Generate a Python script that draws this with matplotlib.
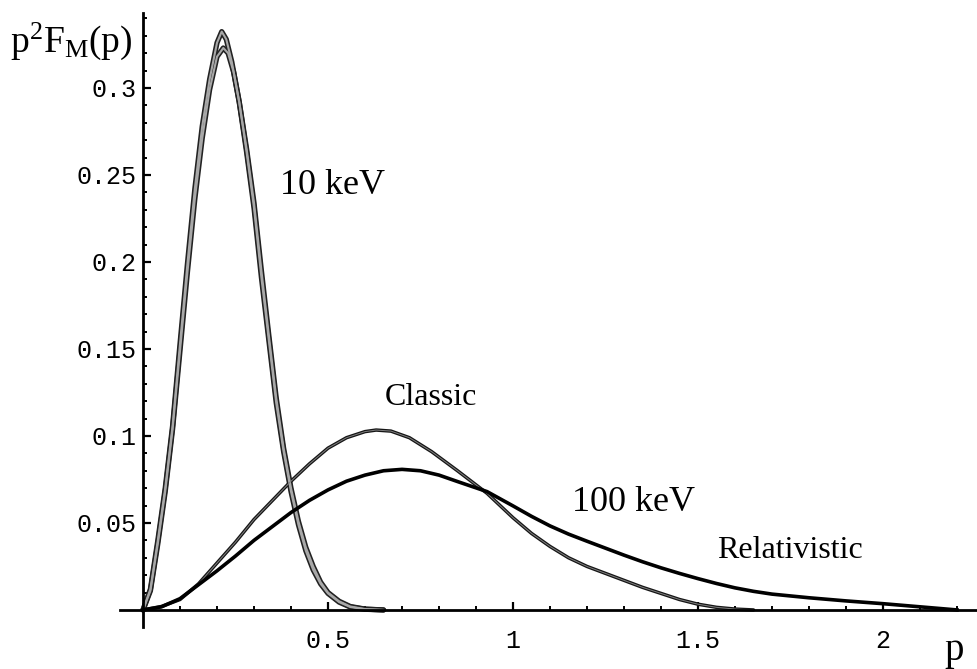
import matplotlib
matplotlib.use("Agg")
import matplotlib.pyplot as plt
from matplotlib.ticker import FixedLocator

# ---- data ----
p_c10 = [0, 0.02, 0.04, 0.06, 0.08, 0.10, 0.12, 0.14, 0.16, 0.18, 0.20, 0.2127, 0.225, 0.24,
         0.26, 0.28, 0.30, 0.32, 0.34, 0.36, 0.38, 0.40, 0.42, 0.44, 0.46, 0.48, 0.50, 0.53,
         0.56, 0.60, 0.65]
v_c10 = [0, 0.012, 0.040, 0.070, 0.106, 0.153, 0.199, 0.242, 0.278, 0.305, 0.326, 0.3324, 0.328,
         0.315, 0.292, 0.263, 0.231, 0.191, 0.155, 0.119, 0.091, 0.068, 0.049, 0.034, 0.023,
         0.015, 0.0095, 0.0045, 0.0017, 0.0004, 0]

p_r10 = [0, 0.02, 0.04, 0.06, 0.08, 0.10, 0.12, 0.14, 0.16, 0.18, 0.20, 0.217, 0.23, 0.245,
         0.26, 0.28, 0.30, 0.32, 0.34, 0.36, 0.38, 0.40, 0.42, 0.44, 0.46, 0.48, 0.50, 0.53,
         0.56, 0.60, 0.65]
v_r10 = [0, 0.011, 0.038, 0.068, 0.104, 0.149, 0.194, 0.236, 0.271, 0.299, 0.318, 0.323, 0.320,
         0.309, 0.292, 0.265, 0.234, 0.195, 0.158, 0.122, 0.093, 0.070, 0.051, 0.036, 0.025,
         0.016, 0.010, 0.005, 0.002, 0.0005, 0]

p_c100 = [0, 0.05, 0.10, 0.15, 0.20, 0.25, 0.30, 0.35, 0.40, 0.45, 0.50, 0.55, 0.60, 0.63,
          0.67, 0.72, 0.78, 0.85, 0.93, 1.00, 1.05, 1.10, 1.15, 1.20, 1.25, 1.30, 1.35, 1.40,
          1.45, 1.50, 1.55, 1.60, 1.65]
v_c100 = [0, 0.002, 0.006, 0.015, 0.027, 0.039, 0.052, 0.063, 0.074, 0.084, 0.093, 0.099,
          0.1025, 0.1034, 0.1028, 0.099, 0.091, 0.080, 0.067, 0.053, 0.044, 0.0365, 0.030,
          0.025, 0.021, 0.017, 0.013, 0.0095, 0.006, 0.0033, 0.0015, 0.0005, 0]

p_r100 = [0, 0.05, 0.10, 0.15, 0.20, 0.25, 0.30, 0.35, 0.40, 0.45, 0.50, 0.55, 0.60, 0.65,
          0.70, 0.75, 0.80, 0.85, 0.93, 1.00, 1.05, 1.10, 1.15, 1.20, 1.25, 1.30, 1.35, 1.40,
          1.45, 1.50, 1.55, 1.60, 1.65, 1.70, 1.80, 1.90, 2.00, 2.10, 2.20]
v_r100 = [0, 0.0018, 0.0065, 0.0145, 0.0225, 0.031, 0.040, 0.048, 0.056, 0.063, 0.069, 0.074,
          0.0775, 0.0800, 0.0808, 0.0800, 0.0775, 0.0738, 0.068, 0.0598, 0.0538, 0.0483, 0.0436,
          0.0395, 0.0355, 0.0315, 0.0277, 0.0242, 0.021, 0.018, 0.0152, 0.0127, 0.0107, 0.0091,
          0.0070, 0.0052, 0.0036, 0.0018, 0.0]

x_major = [0.5, 1, 1.5, 2]
x_major_labels = ["0.5", "1", "1.5", "2"]
y_major = [0.05, 0.1, 0.15, 0.2, 0.25, 0.3]
y_major_labels = ["0.05", "0.1", "0.15", "0.2", "0.25", "0.3"]
x_minor = [0.1, 0.2, 0.3, 0.4, 0.6, 0.7, 0.8, 0.9, 1.1, 1.2, 1.3, 1.4, 1.6, 1.7, 1.8, 1.9, 2.1, 2.2]
y_minor = [i / 100 for i in range(1, 35) if i % 5 != 0]

labels = ["10 keV", "Classic", "100 keV", "Relativistic"]
label_pos = [(0.511, 0.244), (0.778, 0.122), (1.325, 0.062), (1.749, 0.034)]
label_size = [26, 23, 26, 23]

# ---- figure ----
serif = "Liberation Serif"
mono = "Liberation Mono"
plt.rcParams["mathtext.fontset"] = "custom"
plt.rcParams["mathtext.rm"] = serif
plt.rcParams["mathtext.it"] = serif

fig = plt.figure(figsize=(9.77, 6.69), dpi=100)
fig.patch.set_facecolor("white")
ax = fig.add_axes([120 / 977, 42 / 669, 857 / 977, 614 / 669])
ax.set_facecolor("white")
ax.set_xlim(-0.0622, 2.254)
ax.set_ylim(-0.0098, 0.3431)

def hollow(px, py, lw_out, lw_in, c_out="#222222", c_in="#a8a8a8"):
    ax.plot(px, py, color=c_out, lw=lw_out, solid_joinstyle="round", solid_capstyle="round", zorder=3)
    ax.plot(px, py, color=c_in, lw=lw_in, solid_joinstyle="round", solid_capstyle="round", zorder=4)

hollow(p_r10, v_r10, 3.8, 1.5)
hollow(p_c10, v_c10, 3.8, 1.5)
hollow(p_c100, v_c100, 2.5, 0.7, c_out="#151515", c_in="#808080")
ax.plot(p_r100, v_r100, color="black", lw=2.6, solid_joinstyle="round", zorder=5)

for s in ["top", "right"]:
    ax.spines[s].set_visible(False)
for s in ["left", "bottom"]:
    ax.spines[s].set_position(("data", 0))
    ax.spines[s].set_linewidth(2.0)
    ax.spines[s].set_zorder(6)

ax.xaxis.set_major_locator(FixedLocator(x_major))
ax.xaxis.set_minor_locator(FixedLocator(x_minor))
ax.yaxis.set_major_locator(FixedLocator(y_major))
ax.yaxis.set_minor_locator(FixedLocator(y_minor))
ax.set_xticklabels(x_major_labels, fontfamily=mono, fontsize=18)
ax.set_yticklabels(y_major_labels, fontfamily=mono, fontsize=18)
ax.tick_params(axis="both", which="major", direction="in", length=5.5, width=1.6, color="black")
ax.tick_params(axis="both", which="minor", direction="in", length=3.2, width=1.4, color="black")
ax.tick_params(axis="x", which="major", pad=14)
ax.tick_params(axis="y", which="major", pad=5)

for t, (px, py), fs in zip(labels, label_pos, label_size):
    ax.text(px, py, t, fontfamily=serif, fontsize=fs, ha="center", va="center", zorder=7)

fig.text(10 / 977, 1 - 52 / 669, r"p$^{2}$F$_{\mathrm{M}}$(p)", fontfamily=serif,
         fontsize=27, ha="left", va="baseline")
fig.text(954 / 977, 1 - 660 / 669, "p", fontfamily=serif, fontsize=28, ha="center", va="baseline")

fig.savefig("out.png", dpi=100)
